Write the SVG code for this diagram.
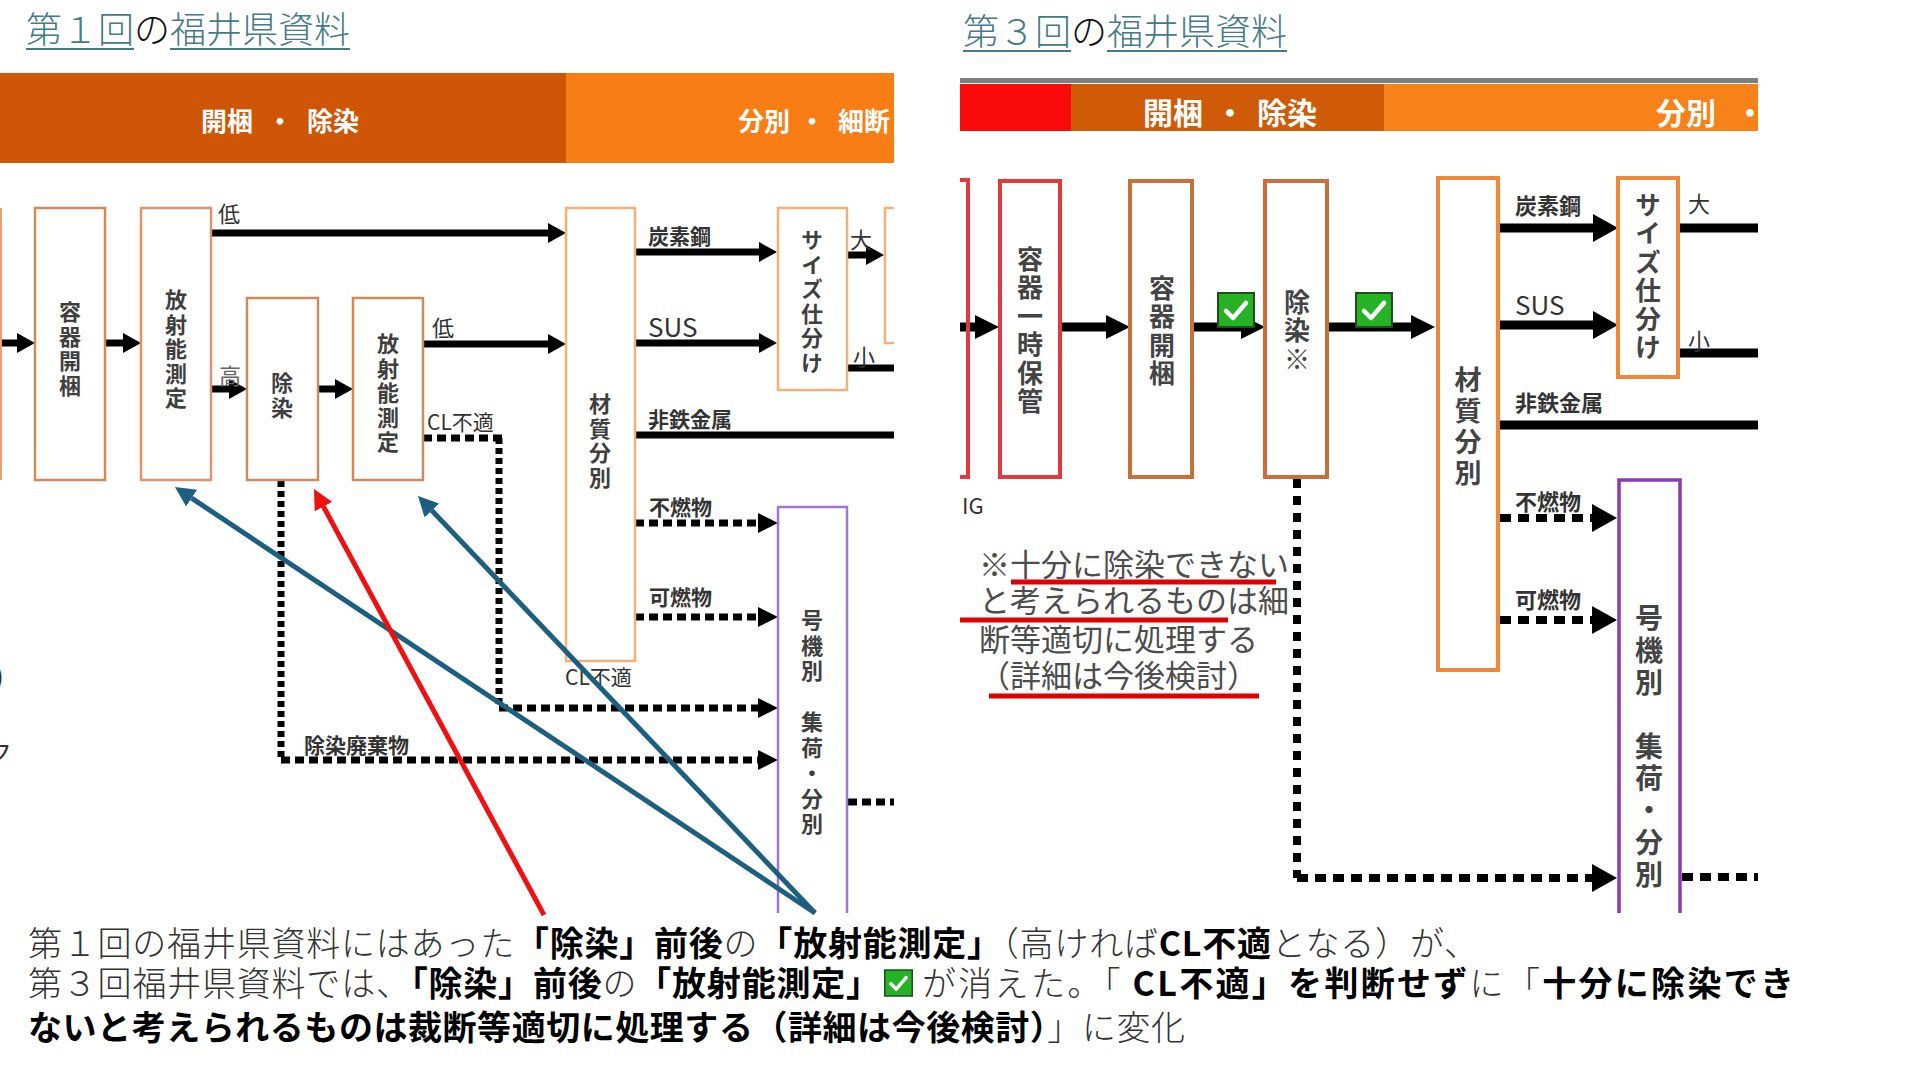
<svg xmlns="http://www.w3.org/2000/svg" width="1920" height="1080" viewBox="0 0 1920 1080">
<style>
text{font-family:"Noto Sans CJK JP","Noto Sans",sans-serif}
.title{font-size:36px;font-weight:300;fill:#457a8a}
.titleb{font-size:36px;font-weight:300;fill:#111}
.ul{stroke:#457a8a;stroke-width:2}
.bar{font-size:26px;font-weight:700;fill:#fff}
.bar2{font-size:30px;font-weight:700;fill:#fff}
.bx{fill:#fff;stroke:#d08a5a;stroke-width:2.5}
.bxs{fill:#fff;stroke:#e3906c;stroke-width:2.5}
.bxm{fill:#fff;stroke:#f4b07a;stroke-width:2.5}
.bxp{fill:none;stroke:#a274d4;stroke-width:2.5}
.rr{fill:#fff;stroke:#e23a3a;stroke-width:4}
.rb{fill:#fff;stroke:#c8703a;stroke-width:4}
.ro{fill:#fff;stroke:#f0883a;stroke-width:4}
.rp{fill:none;stroke:#8a3ab5;stroke-width:3.5}
.vt{font-size:22px;font-weight:700;fill:#3f3f3f;writing-mode:vertical-rl;letter-spacing:2.5px}
.vtr{font-size:26px;font-weight:700;fill:#444;writing-mode:vertical-rl;letter-spacing:2.5px}
.lb{font-size:21px;font-weight:700;fill:#333}
.lr{font-size:22px;font-weight:400;fill:#333}
.sus{font-size:26px;font-weight:400;fill:#333}
.note{font-size:31px;font-weight:400;fill:#4d4d4d}
.th{font-weight:300;fill:#333}
.bd{font-weight:700;fill:#000}
.body{font-size:34px}
.sl{stroke:#000;stroke-width:7;fill:none}
.slr{stroke:#000;stroke-width:9;fill:none}
.dv{stroke:#000;stroke-width:7;stroke-dasharray:6 4;fill:none}
.dh{stroke:#000;stroke-width:7;stroke-dasharray:9 5;fill:none}
.dvr{stroke:#000;stroke-width:8;stroke-dasharray:9 8;fill:none}
.dhr{stroke:#000;stroke-width:8;stroke-dasharray:11 7;fill:none}
.ann{stroke-width:5;fill:none}
.red{stroke:#f01010}
.blue{stroke:#1d5f80}
</style>
<defs>
<marker id="mL" viewBox="0 0 18 20" refX="0" refY="10" markerWidth="18" markerHeight="20" markerUnits="userSpaceOnUse" orient="auto"><path d="M0,0 L18,10 L0,20 z" fill="#000"/></marker>
<marker id="mD" viewBox="0 0 20 20" refX="0" refY="10" markerWidth="20" markerHeight="20" markerUnits="userSpaceOnUse" orient="auto"><path d="M0,0 L20,10 L0,20 z" fill="#000"/></marker>
<marker id="mRs" viewBox="0 0 24 24" refX="0" refY="12" markerWidth="24" markerHeight="24" markerUnits="userSpaceOnUse" orient="auto"><path d="M0,0 L24,12 L0,24 z" fill="#000"/></marker>
<marker id="mR" viewBox="0 0 25 28" refX="0" refY="14" markerWidth="25" markerHeight="28" markerUnits="userSpaceOnUse" orient="auto"><path d="M0,0 L25,14 L0,28 z" fill="#000"/></marker>
<marker id="mB" viewBox="0 0 20 20" refX="0" refY="10" markerWidth="20" markerHeight="20" markerUnits="userSpaceOnUse" orient="auto"><path d="M0,0 L20,10 L0,20 z" fill="#1d5f80"/></marker>
<marker id="mRed" viewBox="0 0 20 20" refX="0" refY="10" markerWidth="20" markerHeight="20" markerUnits="userSpaceOnUse" orient="auto"><path d="M0,0 L20,10 L0,20 z" fill="#f01010"/></marker>
<symbol id="chk" viewBox="0 0 38 36"><rect x="1" y="1" width="36" height="34" fill="#25b325" stroke="#1e4d1e" stroke-width="2"/><path d="M9,19 L16,26 L29,11" stroke="#fff" stroke-width="4.5" fill="none" stroke-linecap="round" stroke-linejoin="round"/></symbol>
</defs>
<rect width="1920" height="1080" fill="#fff"/>

<g id="titles">
<text x="26" y="43"><tspan class="title">第１回</tspan><tspan class="titleb">の</tspan><tspan class="title">福井県資料</tspan></text>
<line class="ul" x1="26" y1="49" x2="134" y2="49"/>
<line class="ul" x1="170" y1="49" x2="350" y2="49"/>
<text x="963" y="45"><tspan class="title">第３回</tspan><tspan class="titleb">の</tspan><tspan class="title">福井県資料</tspan></text>
<line class="ul" x1="963" y1="51" x2="1071" y2="51"/>
<line class="ul" x1="1107" y1="51" x2="1287" y2="51"/>
</g>

<g id="header-left">
<rect x="0" y="73" width="566" height="90" fill="#cf5606"/>
<rect x="566" y="73" width="328" height="90" fill="#f77d14"/>
<text class="bar" x="201" y="131">開梱</text>
<text class="bar" x="280" y="131" text-anchor="middle">・</text>
<text class="bar" x="307" y="131">除染</text>
<text class="bar" x="738" y="131">分別</text>
<text class="bar" x="812" y="131" text-anchor="middle">・</text>
<text class="bar" x="838" y="131">細断</text>
</g>

<g id="header-right">
<rect x="960" y="78" width="798" height="5" fill="#808080"/>
<rect x="960" y="84" width="111" height="47" fill="#fb0a0a"/>
<rect x="1071" y="84" width="313" height="47" fill="#cf5a08"/>
<rect x="1384" y="84" width="374" height="47" fill="#f8821a"/>
<text class="bar2" x="1143" y="124">開梱</text>
<text class="bar2" x="1230" y="124" text-anchor="middle">・</text>
<text class="bar2" x="1257" y="124">除染</text>
<text class="bar2" x="1656" y="124">分別</text>
<text class="bar2" x="1750" y="124" text-anchor="middle">・</text>
</g>

<g id="connectors">
<line class="sl" x1="0" y1="343" x2="17" y2="343" marker-end="url(#mL)"/>
<line class="sl" x1="105" y1="343" x2="123" y2="343" marker-end="url(#mL)"/>
<line class="sl" x1="211" y1="233" x2="548" y2="233" marker-end="url(#mL)"/>
<line class="sl" x1="211" y1="389" x2="229" y2="389" marker-end="url(#mL)"/>
<line class="sl" x1="318" y1="389" x2="335" y2="389" marker-end="url(#mL)"/>
<line class="sl" x1="423" y1="344" x2="548" y2="344" marker-end="url(#mL)"/>
<line class="sl" x1="635" y1="252" x2="759" y2="252" marker-end="url(#mL)"/>
<line class="sl" x1="635" y1="343" x2="759" y2="343" marker-end="url(#mL)"/>
<line class="sl" x1="847" y1="255" x2="866" y2="255" marker-end="url(#mL)"/>
<line class="sl" x1="635" y1="435" x2="894" y2="435"/>
<line class="sl" x1="847" y1="368" x2="894" y2="368"/>
<line class="dh" x1="423" y1="438" x2="502" y2="438"/>
<line class="dv" x1="499" y1="438" x2="499" y2="708"/>
<line class="dh" x1="499" y1="708" x2="758" y2="708" marker-end="url(#mD)"/>
<line class="dv" x1="281" y1="481" x2="281" y2="760"/>
<line class="dh" x1="281" y1="760" x2="758" y2="760" marker-end="url(#mD)"/>
<line class="dh" x1="635" y1="523" x2="758" y2="523" marker-end="url(#mD)"/>
<line class="dh" x1="635" y1="617" x2="758" y2="617" marker-end="url(#mD)"/>
<line class="dh" x1="848" y1="802" x2="894" y2="802"/>

<line class="slr" x1="960" y1="327" x2="975" y2="327" marker-end="url(#mRs)"/>
<line class="slr" x1="1061" y1="327" x2="1106" y2="327" marker-end="url(#mRs)"/>
<line class="slr" x1="1193" y1="327" x2="1241" y2="327" marker-end="url(#mRs)"/>
<line class="slr" x1="1328" y1="327" x2="1411" y2="327" marker-end="url(#mRs)"/>
<line class="slr" x1="1499" y1="228" x2="1593" y2="228" marker-end="url(#mR)"/>
<line class="slr" x1="1499" y1="325" x2="1593" y2="325" marker-end="url(#mR)"/>
<line class="slr" x1="1678" y1="228" x2="1758" y2="228"/>
<line class="slr" x1="1678" y1="353" x2="1758" y2="353"/>
<line class="slr" x1="1499" y1="425" x2="1758" y2="425"/>
<line class="dvr" x1="1297" y1="479" x2="1297" y2="878"/>
<line class="dhr" x1="1297" y1="878" x2="1592" y2="878" marker-end="url(#mR)"/>
<line class="dhr" x1="1500" y1="518" x2="1592" y2="518" marker-end="url(#mR)"/>
<line class="dhr" x1="1500" y1="620" x2="1592" y2="620" marker-end="url(#mR)"/>
<line class="dhr" x1="1682" y1="877" x2="1758" y2="877"/>
</g>

<g id="left-edge">
<line x1="1" y1="208" x2="1" y2="480" stroke="#e8a07a" stroke-width="2"/>
<text x="-5" y="686" font-size="26" fill="#333">)</text>
<text x="-14" y="762" font-size="26" fill="#333">ク</text>
</g>

<g id="n-yoki-kaikon"><rect class="bx" x="35" y="208" width="70" height="272"/><text class="vt" x="70" y="301">容器開梱</text></g>
<g id="n-hoshanou1"><rect class="bxs" x="141" y="208" width="70" height="272"/><text class="vt" x="176" y="289">放射能測定</text></g>
<g id="n-josen"><rect class="bx" x="247" y="298" width="71" height="182"/><text class="vt" x="282" y="372">除染</text></g>
<g id="n-hoshanou2"><rect class="bx" x="353" y="298" width="70" height="182"/><text class="vt" x="388" y="333">放射能測定</text></g>
<g id="n-zaishitsu1"><rect class="bxm" x="566" y="208" width="69" height="453"/><text class="vt" x="600" y="393">材質分別</text></g>
<g id="n-size1"><rect class="bxm" x="778" y="208" width="69" height="182"/><text class="vt" x="812" y="229">サイズ仕分け</text></g>
<g id="n-partial1"><path d="M894,208 H885 V343 H894" fill="none" stroke="#f4b07a" stroke-width="2.5"/></g>
<g id="n-goki1"><path class="bxp" d="M778,913 V507 H847 V913"/><text class="vt" x="812" y="609" style="letter-spacing:3.5px">号機別　集荷・分別</text></g>

<g id="labels-left">
<text class="lr" x="218" y="222">低</text>
<text class="lr" x="432" y="336">低</text>
<text class="lr" x="219" y="384" style="fill:#666">高</text>
<text class="lr" x="427" y="430" style="font-size:21px">CL不適</text>
<text class="lb" x="648" y="244">炭素鋼</text>
<text class="sus" x="648" y="337">SUS</text>
<text class="lb" x="648" y="427">非鉄金属</text>
<text class="lr" x="850" y="248">大</text>
<text class="lr" x="853" y="365">小</text>
<text class="lb" x="649" y="515">不燃物</text>
<text class="lb" x="649" y="605">可燃物</text>
<text class="lr" x="565" y="685" style="font-size:21px">CL不適</text>
<text class="lb" x="304" y="753">除染廃棄物</text>
</g>

<g id="n-partial-red"><path d="M960,180 H968 V477 H960" fill="none" stroke="#e23a3a" stroke-width="4"/></g>
<g id="n-ichiji"><rect class="rr" x="1000" y="181" width="60" height="296"/><text class="vtr" x="1030" y="246">容器一時保管</text></g>
<g id="n-yoki-kaikon2"><rect class="rb" x="1130" y="181" width="62" height="296"/><text class="vtr" x="1162" y="275">容器開梱</text></g>
<g id="n-josen2"><rect class="rb" x="1265" y="181" width="62" height="296"/><text class="vtr" x="1297" y="289">除染※</text></g>
<g id="n-zaishitsu2"><rect class="ro" x="1438" y="178" width="60" height="492"/><text class="vtr" x="1468" y="366" style="letter-spacing:4px;font-size:27px">材質分別</text></g>
<g id="n-size2"><rect class="ro" x="1618" y="178" width="60" height="199"/><text class="vtr" x="1648" y="192">サイズ仕分け</text></g>
<g id="n-goki2"><path class="rp" d="M1619,913 V480 H1680 V913"/><text class="vtr" x="1649" y="604" style="letter-spacing:4px;font-size:28px">号機別　集荷・分別</text></g>

<g id="checks">
<use href="#chk" x="1217" y="292" width="38" height="36"/>
<use href="#chk" x="1355" y="292" width="38" height="36"/>
</g>

<g id="labels-right">
<text x="962" y="514" font-size="22" fill="#333">IG</text>
<text class="lb" x="1515" y="214" style="font-size:22px">炭素鋼</text>
<text class="sus" x="1515" y="315">SUS</text>
<text class="lb" x="1515" y="411" style="font-size:22px">非鉄金属</text>
<text class="lr" x="1688" y="212">大</text>
<text class="lr" x="1688" y="349">小</text>
<text class="lb" x="1515" y="510" style="font-size:22px">不燃物</text>
<text class="lb" x="1515" y="608" style="font-size:22px">可燃物</text>
</g>

<g id="note">
<text class="note" x="979" y="576">※十分に除染できない</text>
<text class="note" x="979" y="612">と考えられるものは細</text>
<text class="note" x="979" y="651">断等適切に処理する</text>
<text class="note" x="979" y="687">（詳細は今後検討）</text>
<line x1="1011" y1="582" x2="1276" y2="582" stroke="#e00000" stroke-width="5"/>
<line x1="960" y1="620" x2="1228" y2="620" stroke="#e00000" stroke-width="5"/>
<line x1="989" y1="696" x2="1259" y2="696" stroke="#e00000" stroke-width="5"/>
</g>

<g id="annotation-arrows">
<line class="ann blue" x1="815" y1="913" x2="191.6" y2="498.1" marker-end="url(#mB)"/>
<line class="ann blue" x1="815" y1="913" x2="431.8" y2="510.5" marker-end="url(#mB)"/>
<line class="ann red" x1="544" y1="915" x2="323.5" y2="506.6" marker-end="url(#mRed)"/>
</g>

<g id="caption">
<text class="body" x="28" y="956" textLength="1450" lengthAdjust="spacing"><tspan class="th">第１回の福井県資料にはあった</tspan><tspan class="bd">「除染」前後</tspan><tspan class="th">の</tspan><tspan class="bd">「放射能測定」</tspan><tspan class="th">（高ければ</tspan><tspan class="bd">CL不適</tspan><tspan class="th">となる）が、</tspan></text>
<text class="body" x="28" y="996" textLength="852" lengthAdjust="spacing"><tspan class="th">第３回福井県資料では、</tspan><tspan class="bd">「除染」前後</tspan><tspan class="th">の</tspan><tspan class="bd">「放射能測定」</tspan></text>
<use href="#chk" x="884" y="969" width="29" height="28"/>
<text class="body" x="922" y="996" textLength="872" lengthAdjust="spacing"><tspan class="th">が消えた。「 </tspan><tspan class="bd">CL不適」を判断せず</tspan><tspan class="th">に「</tspan><tspan class="bd">十分に除染でき</tspan></text>
<text class="body" x="28" y="1040" textLength="1157" lengthAdjust="spacing"><tspan class="bd">ないと考えられるものは裁断等適切に処理する（詳細は今後検討）</tspan><tspan class="th">」に変化</tspan></text>
</g>
</svg>
